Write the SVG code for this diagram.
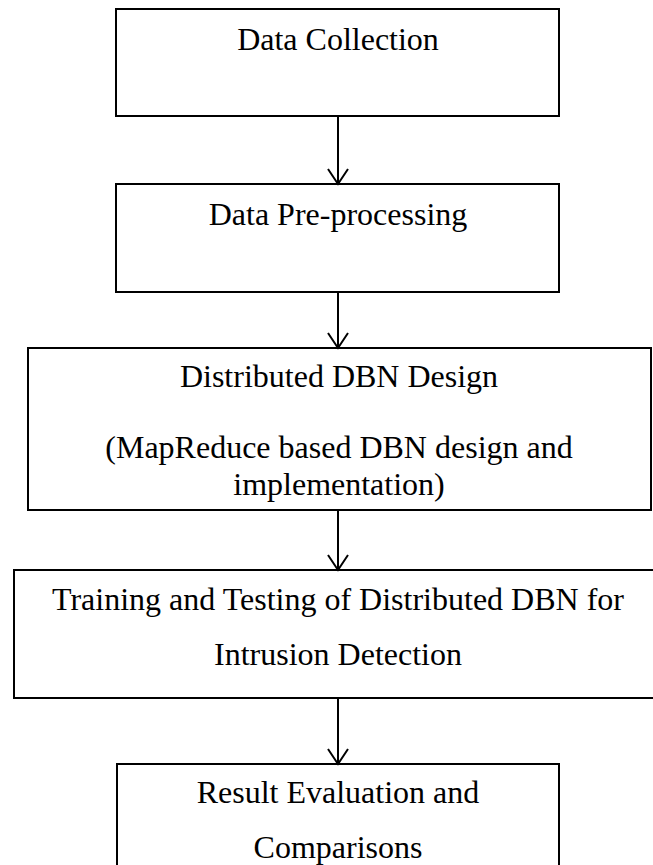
<svg xmlns="http://www.w3.org/2000/svg" width="653" height="865" viewBox="0 0 653 865">
  <style>
    .box { fill: #ffffff; stroke: #000000; stroke-width: 2; }
    .lbl { font-family: "Liberation Serif", "Times New Roman", serif; font-size: 32px; fill: #000000; text-anchor: middle; }
    .flow { stroke: #000000; stroke-width: 2; fill: none; }
  </style>
  <defs>
    <!-- open V arrowhead, drawn along +x and rotated to the line direction -->
    <marker id="arrowOpen" markerWidth="18" markerHeight="22" refX="16" refY="11" orient="auto" markerUnits="userSpaceOnUse" viewBox="0 0 18 22">
      <path d="M1,1 L16,11 L1,21" fill="none" stroke="#000000" stroke-width="2"/>
    </marker>
  </defs>
  <rect width="653" height="865" fill="#ffffff"/>

  <g id="data-collection">
    <rect class="box" x="116" y="9" width="443" height="107"/>
    <text class="lbl" x="338" y="50">Data Collection</text>
  </g>

  <g id="data-preprocessing">
    <rect class="box" x="116" y="184" width="443" height="108"/>
    <text class="lbl" x="338" y="225">Data Pre-processing</text>
  </g>

  <g id="distributed-dbn-design">
    <rect class="box" x="28" y="348" width="623" height="162"/>
    <text class="lbl" x="339" y="387">Distributed DBN Design</text>
    <text class="lbl" x="339" y="458">(MapReduce based DBN design and</text>
    <text class="lbl" x="339" y="495">implementation)</text>
  </g>

  <g id="training-testing">
    <rect class="box" x="14" y="570" width="650" height="128"/>
    <text class="lbl" x="338" y="610">Training and Testing of Distributed DBN for</text>
    <text class="lbl" x="338" y="665">Intrusion Detection</text>
  </g>

  <g id="result-evaluation">
    <rect class="box" x="117" y="764" width="442" height="120"/>
    <text class="lbl" x="338" y="803">Result Evaluation and</text>
    <text class="lbl" x="338" y="858">Comparisons</text>
  </g>

  <g id="connectors">
    <line class="flow" x1="338" y1="116" x2="338" y2="184" marker-end="url(#arrowOpen)"/>
    <line class="flow" x1="338" y1="292" x2="338" y2="348" marker-end="url(#arrowOpen)"/>
    <line class="flow" x1="338" y1="510" x2="338" y2="570" marker-end="url(#arrowOpen)"/>
    <line class="flow" x1="338" y1="698" x2="338" y2="764" marker-end="url(#arrowOpen)"/>
  </g>
</svg>
